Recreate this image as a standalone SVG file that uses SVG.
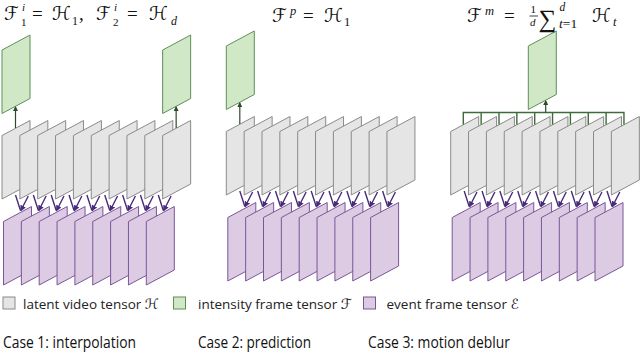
<svg xmlns="http://www.w3.org/2000/svg" xmlns:xlink="http://www.w3.org/1999/xlink" width="640" height="354" viewBox="0 0 640 354">
<style>
.gray{fill:#e5e5e5;stroke:#8a8a8a;stroke-width:1}
.green{fill:#d0e8c6;stroke:#5f8f59;stroke-width:1}
.purple{fill:#dccbe3;stroke:#7a5699;stroke-width:1}
.va{stroke:#4a2b7a;stroke-width:1.4;fill:none;marker-end:url(#vh)}
.ga{stroke:#2e4a2e;stroke-width:1.2;fill:none;marker-end:url(#gh)}
.br{stroke:#3f6b3b;stroke-width:1.4;fill:none}
.m{font-family:"Liberation Serif","DejaVu Serif",serif;fill:#111}
.s{font-family:"DejaVu Serif","DejaVu Sans",serif;font-style:italic;fill:#111}
.lg{font-family:"Open Sans",sans-serif;font-size:13.5px;fill:#222}
.cs{font-family:"Open Sans",sans-serif;font-size:16px;fill:#111}
</style>
<defs>
<path id="fr" d="M0,15 L28,0 L28,63.5 L0,78.5 Z"/>
<marker id="vh" markerWidth="6" markerHeight="6" refX="5" refY="3" orient="auto" markerUnits="userSpaceOnUse"><path d="M0,0 L6,3 L0,6 Z" fill="#4a2b7a"/></marker>
<marker id="gh" markerWidth="5" markerHeight="5" refX="4" refY="2.5" orient="auto" markerUnits="userSpaceOnUse"><path d="M0,0 L5,2.5 L0,5 Z" fill="#2e4a2e"/></marker>
</defs>

<!-- Case 1 -->
<g id="case1">
<g id="c1-green1"><use xlink:href="#fr" class="green" transform="translate(2,35)"/></g>
<g id="c1-green2"><use xlink:href="#fr" class="green" transform="translate(162.65,35)"/></g>
<g id="c1-latent">
<g id="c1-h1"><use xlink:href="#fr" class="gray" transform="translate(2,120.5)"/></g>
<g id="c1-h2"><use xlink:href="#fr" class="gray" transform="translate(19.85,120.5)"/></g>
<g id="c1-h3"><use xlink:href="#fr" class="gray" transform="translate(37.7,120.5)"/></g>
<g id="c1-h4"><use xlink:href="#fr" class="gray" transform="translate(55.55,120.5)"/></g>
<g id="c1-h5"><use xlink:href="#fr" class="gray" transform="translate(73.4,120.5)"/></g>
<g id="c1-h6"><use xlink:href="#fr" class="gray" transform="translate(91.25,120.5)"/></g>
<g id="c1-h7"><use xlink:href="#fr" class="gray" transform="translate(109.1,120.5)"/></g>
<g id="c1-h8"><use xlink:href="#fr" class="gray" transform="translate(126.95,120.5)"/></g>
<g id="c1-h9"><use xlink:href="#fr" class="gray" transform="translate(144.8,120.5)"/></g>
<g id="c1-h10"><use xlink:href="#fr" class="gray" transform="translate(162.65,120.5)"/></g>
</g>
<g id="c1-event">
<g id="c1-e1"><use xlink:href="#fr" class="purple" transform="translate(3.5,206.5)"/></g>
<g id="c1-e2"><use xlink:href="#fr" class="purple" transform="translate(21.35,206.5)"/></g>
<g id="c1-e3"><use xlink:href="#fr" class="purple" transform="translate(39.2,206.5)"/></g>
<g id="c1-e4"><use xlink:href="#fr" class="purple" transform="translate(57.05,206.5)"/></g>
<g id="c1-e5"><use xlink:href="#fr" class="purple" transform="translate(74.9,206.5)"/></g>
<g id="c1-e6"><use xlink:href="#fr" class="purple" transform="translate(92.75,206.5)"/></g>
<g id="c1-e7"><use xlink:href="#fr" class="purple" transform="translate(110.6,206.5)"/></g>
<g id="c1-e8"><use xlink:href="#fr" class="purple" transform="translate(128.45,206.5)"/></g>
<g id="c1-e9"><use xlink:href="#fr" class="purple" transform="translate(146.3,206.5)"/></g>
</g>
</g>

<!-- Case 2 -->
<g id="case2" transform="translate(224.3,-4)">
<g id="c2-green"><use xlink:href="#fr" class="green" transform="translate(2,35)"/></g>
<g id="c2-latent">
<g id="c2-h1"><use xlink:href="#fr" class="gray" transform="translate(2,120.5)"/></g>
<g id="c2-h2"><use xlink:href="#fr" class="gray" transform="translate(19.85,120.5)"/></g>
<g id="c2-h3"><use xlink:href="#fr" class="gray" transform="translate(37.7,120.5)"/></g>
<g id="c2-h4"><use xlink:href="#fr" class="gray" transform="translate(55.55,120.5)"/></g>
<g id="c2-h5"><use xlink:href="#fr" class="gray" transform="translate(73.4,120.5)"/></g>
<g id="c2-h6"><use xlink:href="#fr" class="gray" transform="translate(91.25,120.5)"/></g>
<g id="c2-h7"><use xlink:href="#fr" class="gray" transform="translate(109.1,120.5)"/></g>
<g id="c2-h8"><use xlink:href="#fr" class="gray" transform="translate(126.95,120.5)"/></g>
<g id="c2-h9"><use xlink:href="#fr" class="gray" transform="translate(144.8,120.5)"/></g>
<g id="c2-h10"><use xlink:href="#fr" class="gray" transform="translate(162.65,120.5)"/></g>
</g>
<g id="c2-event">
<g id="c2-e1"><use xlink:href="#fr" class="purple" transform="translate(3.5,206.5)"/></g>
<g id="c2-e2"><use xlink:href="#fr" class="purple" transform="translate(21.35,206.5)"/></g>
<g id="c2-e3"><use xlink:href="#fr" class="purple" transform="translate(39.2,206.5)"/></g>
<g id="c2-e4"><use xlink:href="#fr" class="purple" transform="translate(57.05,206.5)"/></g>
<g id="c2-e5"><use xlink:href="#fr" class="purple" transform="translate(74.9,206.5)"/></g>
<g id="c2-e6"><use xlink:href="#fr" class="purple" transform="translate(92.75,206.5)"/></g>
<g id="c2-e7"><use xlink:href="#fr" class="purple" transform="translate(110.6,206.5)"/></g>
<g id="c2-e8"><use xlink:href="#fr" class="purple" transform="translate(128.45,206.5)"/></g>
<g id="c2-e9"><use xlink:href="#fr" class="purple" transform="translate(146.3,206.5)"/></g>
</g>
</g>

<!-- Case 3 -->
<g id="case3" transform="translate(448.7,-4)">
<g id="c3-green"><use xlink:href="#fr" class="green" transform="translate(79.6,35)"/></g>
<g id="c3-latent">
<g id="c3-h1"><use xlink:href="#fr" class="gray" transform="translate(2,120.5)"/></g>
<g id="c3-h2"><use xlink:href="#fr" class="gray" transform="translate(19.85,120.5)"/></g>
<g id="c3-h3"><use xlink:href="#fr" class="gray" transform="translate(37.7,120.5)"/></g>
<g id="c3-h4"><use xlink:href="#fr" class="gray" transform="translate(55.55,120.5)"/></g>
<g id="c3-h5"><use xlink:href="#fr" class="gray" transform="translate(73.4,120.5)"/></g>
<g id="c3-h6"><use xlink:href="#fr" class="gray" transform="translate(91.25,120.5)"/></g>
<g id="c3-h7"><use xlink:href="#fr" class="gray" transform="translate(109.1,120.5)"/></g>
<g id="c3-h8"><use xlink:href="#fr" class="gray" transform="translate(126.95,120.5)"/></g>
<g id="c3-h9"><use xlink:href="#fr" class="gray" transform="translate(144.8,120.5)"/></g>
<g id="c3-h10"><use xlink:href="#fr" class="gray" transform="translate(162.65,120.5)"/></g>
</g>
<g id="c3-event">
<g id="c3-e1"><use xlink:href="#fr" class="purple" transform="translate(3.5,206.5)"/></g>
<g id="c3-e2"><use xlink:href="#fr" class="purple" transform="translate(21.35,206.5)"/></g>
<g id="c3-e3"><use xlink:href="#fr" class="purple" transform="translate(39.2,206.5)"/></g>
<g id="c3-e4"><use xlink:href="#fr" class="purple" transform="translate(57.05,206.5)"/></g>
<g id="c3-e5"><use xlink:href="#fr" class="purple" transform="translate(74.9,206.5)"/></g>
<g id="c3-e6"><use xlink:href="#fr" class="purple" transform="translate(92.75,206.5)"/></g>
<g id="c3-e7"><use xlink:href="#fr" class="purple" transform="translate(110.6,206.5)"/></g>
<g id="c3-e8"><use xlink:href="#fr" class="purple" transform="translate(128.45,206.5)"/></g>
<g id="c3-e9"><use xlink:href="#fr" class="purple" transform="translate(146.3,206.5)"/></g>
</g>
</g>

<!-- Connectors -->
<g id="connectors">
<g id="vset">
<path class="va" d="M15.5,195 L20.5,210.5 M28.3,196 L20.9,210.5"/>
<path class="va" d="M33.35,195 L38.35,210.5 M46.15,196 L38.75,210.5"/>
<path class="va" d="M51.2,195 L56.2,210.5 M64,196 L56.6,210.5"/>
<path class="va" d="M69.05,195 L74.05,210.5 M81.85,196 L74.45,210.5"/>
<path class="va" d="M86.9,195 L91.9,210.5 M99.7,196 L92.3,210.5"/>
<path class="va" d="M104.75,195 L109.75,210.5 M117.55,196 L110.15,210.5"/>
<path class="va" d="M122.6,195 L127.6,210.5 M135.4,196 L128,210.5"/>
<path class="va" d="M140.45,195 L145.45,210.5 M153.25,196 L145.85,210.5"/>
<path class="va" d="M158.3,195 L163.3,210.5 M171.1,196 L163.7,210.5"/>
</g>
<g id="c1-conn">
<path class="ga" d="M15.5,128 L15.5,107"/>
<path class="ga" d="M176.15,128 L176.15,107"/>
</g>
<g id="c2-conn" transform="translate(224.3,-4)">
<use xlink:href="#vset"/>
<path class="ga" d="M15.5,128 L15.5,107"/>
</g>
<g id="c3-conn" transform="translate(448.7,-4)">
<use xlink:href="#vset"/>
<path class="br" d="M14.6,128.5 V116.5 H175.25 V128.5 M32.45,116.5 V128.5 M50.3,116.5 V128.5 M68.15,116.5 V128.5 M86,116.5 V128.5 M103.85,116.5 V128.5 M121.7,116.5 V128.5 M139.55,116.5 V128.5 M157.4,116.5 V128.5"/>
<path class="ga" d="M97,116.5 L97,105"/>
</g>
</g>

<!-- Titles -->
<g id="title1">
<text class="s" x="4" y="20" font-size="19">ℱ</text>
<text class="m" x="21" y="26" font-size="11">1</text>
<text class="m" x="22" y="11" font-size="11" font-style="italic">i</text>
<text class="m" x="32" y="20" font-size="19">=</text>
<text class="s" x="52" y="20" font-size="19">ℋ</text>
<text class="m" x="72" y="25" font-size="12">1</text>
<text class="m" x="79" y="20" font-size="19">,</text>
<text class="s" x="96" y="20" font-size="19">ℱ</text>
<text class="m" x="113" y="26" font-size="11">2</text>
<text class="m" x="114" y="11" font-size="11" font-style="italic">i</text>
<text class="m" x="127" y="20" font-size="19">=</text>
<text class="s" x="149" y="20" font-size="19">ℋ</text>
<text class="m" x="171" y="25" font-size="12" font-style="italic">d</text>
</g>
<g id="title2">
<text class="s" x="272" y="21.5" font-size="19">ℱ</text>
<text class="m" x="290" y="15" font-size="12.5" font-style="italic">p</text>
<text class="m" x="303" y="21.5" font-size="19">=</text>
<text class="s" x="324" y="21.5" font-size="19">ℋ</text>
<text class="m" x="344" y="25.5" font-size="12.5">1</text>
</g>
<g id="title3">
<text class="s" x="467" y="21.5" font-size="19">ℱ</text>
<text class="m" x="485" y="15" font-size="12.5" font-style="italic">m</text>
<text class="m" x="504" y="21.5" font-size="19">=</text>
<text class="m" x="530.5" y="13" font-size="11">1</text>
<line x1="529.5" y1="16" x2="538" y2="16" stroke="#111" stroke-width="0.8"/>
<text class="m" x="530" y="26" font-size="11" font-style="italic">d</text>
<text class="m" x="538.5" y="27" font-size="25">∑</text>
<text class="m" x="559.5" y="10.5" font-size="11.5" font-style="italic">d</text>
<text class="m" x="559" y="27.5" font-size="13.5"><tspan font-style="italic">t</tspan>=1</text>
<text class="s" x="592" y="21.5" font-size="19">ℋ</text>
<text class="m" x="613" y="25.5" font-size="12.5" font-style="italic">t</text>
</g>

<!-- Legend -->
<g id="legend">
<g id="lg-latent"><rect x="3" y="297" width="12" height="12" class="gray"/><text class="lg" x="23" y="309">latent video tensor <tspan class="s" font-size="14">ℋ</tspan></text></g>
<g id="lg-intensity"><rect x="173.5" y="297" width="12" height="12" class="green"/><text class="lg" x="198" y="309">intensity frame tensor <tspan class="s" font-size="14">ℱ</tspan></text></g>
<g id="lg-event"><rect x="363.5" y="297" width="12" height="12" class="purple"/><text class="lg" x="386.5" y="309">event frame tensor <tspan class="s" font-size="14">ℰ</tspan></text></g>
</g>

<!-- Case labels -->
<g id="case-labels">
<text class="cs" x="3" y="348" textLength="133" lengthAdjust="spacingAndGlyphs">Case 1: interpolation</text>
<text class="cs" x="198" y="348" textLength="113" lengthAdjust="spacingAndGlyphs">Case 2: prediction</text>
<text class="cs" x="368" y="348" textLength="142" lengthAdjust="spacingAndGlyphs">Case 3: motion deblur</text>
</g>
</svg>
